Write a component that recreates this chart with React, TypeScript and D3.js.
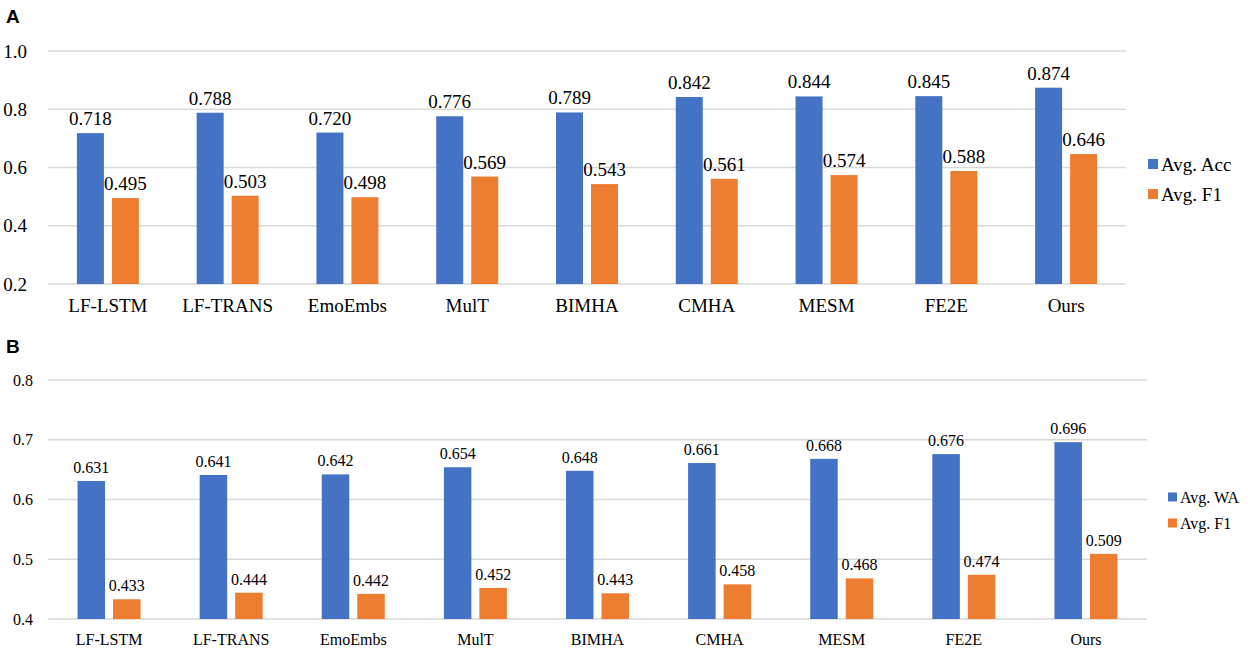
import * as React from 'react';
import * as d3 from 'd3';

const methods = ['LF-LSTM', 'LF-TRANS', 'EmoEmbs', 'MulT', 'BIMHA', 'CMHA', 'MESM', 'FE2E', 'Ours'];

const accA = [0.718, 0.788, 0.72, 0.776, 0.789, 0.842, 0.844, 0.845, 0.874];
const f1A = [0.495, 0.503, 0.498, 0.569, 0.543, 0.561, 0.574, 0.588, 0.646];
const ticksA = [0.2, 0.4, 0.6, 0.8, 1.0];

const waB = [0.631, 0.641, 0.642, 0.654, 0.648, 0.661, 0.668, 0.676, 0.696];
const f1B = [0.433, 0.444, 0.442, 0.452, 0.443, 0.458, 0.468, 0.474, 0.509];
const ticksB = [0.4, 0.5, 0.6, 0.7, 0.8];

const BLUE = '#4472C4';
const ORANGE = '#ED7D31';
const GRID = '#d9d9d9';
const SERIF = '"Liberation Serif", "Times New Roman", serif';

type PanelProps = {
  letter: string;
  letterY: number;
  s1: number[];
  s2: number[];
  names: [string, string];
  ticks: number[];
  yDomain: [number, number];
  yRange: [number, number];
  xRange: [number, number];
  fs: number;
  tickEnd: number;
  catY: number;
  barW: number;
  legend: { x: number; size: number; y1: number; y2: number };
};

function Panel(p: PanelProps) {
  const x = d3.scaleBand<string>().domain(methods).range(p.xRange).padding(0);
  const y = d3.scaleLinear().domain(p.yDomain).range(p.yRange);
  const bw = x.bandwidth();
  const gap = 8;
  const fmt = d3.format('.3f');
  const base = y(p.yDomain[0]);

  return (
    <g>
      <text x={6} y={p.letterY} fontFamily='"Liberation Sans", Arial, sans-serif' fontWeight="bold" fontSize={19}>
        {p.letter}
      </text>
      {p.ticks.map(t => (
        <g key={t}>
          <line x1={p.xRange[0]} x2={p.xRange[1]} y1={y(t)} y2={y(t)} stroke={GRID} strokeWidth={1.3} />
          <text x={p.tickEnd} y={y(t)} dy="0.35em" textAnchor="end" fontFamily={SERIF} fontSize={p.fs}>
            {t.toFixed(1)}
          </text>
        </g>
      ))}
      {methods.map((m, i) => {
        const c = (x(m) ?? 0) + bw / 2;
        const bx1 = c - gap / 2 - p.barW;
        const bx2 = c + gap / 2;
        return (
          <g key={m}>
            <rect x={bx1} y={y(p.s1[i])} width={p.barW} height={base - y(p.s1[i])} fill={BLUE} />
            <rect x={bx2} y={y(p.s2[i])} width={p.barW} height={base - y(p.s2[i])} fill={ORANGE} />
            <text x={bx1 + p.barW / 2} y={y(p.s1[i]) - 8} textAnchor="middle" fontFamily={SERIF} fontSize={p.fs}>
              {fmt(p.s1[i])}
            </text>
            <text x={bx2 + p.barW / 2} y={y(p.s2[i]) - 8} textAnchor="middle" fontFamily={SERIF} fontSize={p.fs}>
              {fmt(p.s2[i])}
            </text>
            <text x={c} y={p.catY} textAnchor="middle" fontFamily={SERIF} fontSize={p.fs}>
              {m}
            </text>
          </g>
        );
      })}
      {[p.legend.y1, p.legend.y2].map((ly, k) => (
        <g key={k}>
          <rect
            x={p.legend.x}
            y={ly - p.legend.size / 2}
            width={p.legend.size}
            height={p.legend.size}
            fill={k === 0 ? BLUE : ORANGE}
          />
          <text x={p.legend.x + p.legend.size + 3} y={ly} dy="0.35em" fontFamily={SERIF} fontSize={p.fs}>
            {p.names[k]}
          </text>
        </g>
      ))}
    </g>
  );
}

export default function App() {
  return (
    <svg
      width={1248}
      height={656}
      style={{ position: 'absolute', left: 0, top: 0, background: '#fff' }}
    >
      <rect width={1248} height={656} fill="#fff" />
      <Panel
        letter="A"
        letterY={23}
        s1={accA}
        s2={f1A}
        names={['Avg. Acc', 'Avg. F1']}
        ticks={ticksA}
        yDomain={[0.2, 1.0]}
        yRange={[284, 51]}
        xRange={[48, 1126]}
        fs={19}
        tickEnd={27}
        catY={312}
        barW={27}
        legend={{ x: 1148, size: 10, y1: 164, y2: 194 }}
      />
      <Panel
        letter="B"
        letterY={353}
        s1={waB}
        s2={f1B}
        names={['Avg. WA', 'Avg. F1']}
        ticks={ticksB}
        yDomain={[0.4, 0.8]}
        yRange={[619, 380]}
        xRange={[48, 1147]}
        fs={16}
        tickEnd={33}
        catY={645}
        barW={27.5}
        legend={{ x: 1168, size: 9, y1: 497, y2: 523 }}
      />
    </svg>
  );
}
